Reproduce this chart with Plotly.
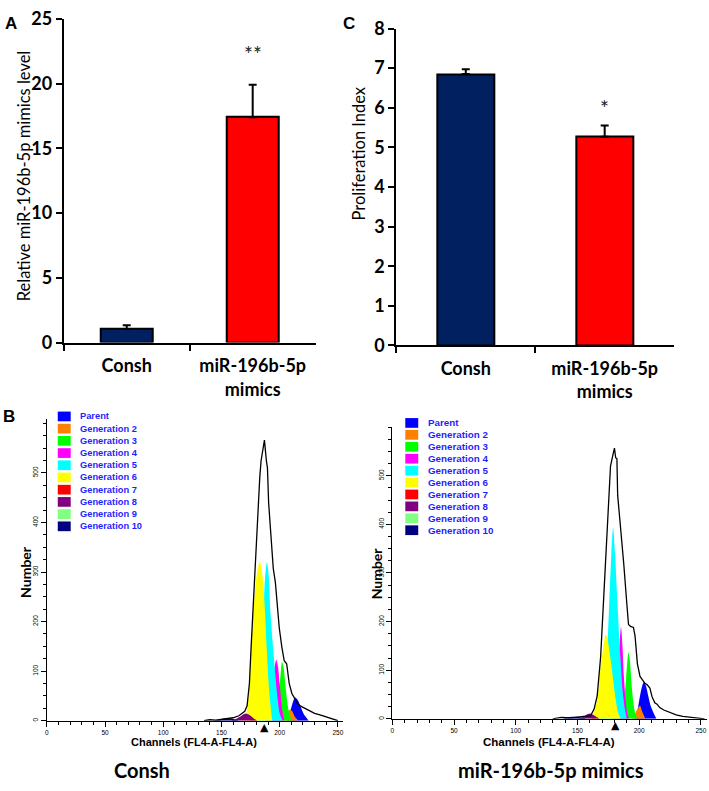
import plotly.graph_objects as go

W, H = 709, 791

# ---- panel A / C : bar data ----
CATS = ["Consh", "miR-196b-5p<br>mimics"]
BAR_COLORS = ["#002060", "#FF0000"]
A_MEAN = [1.05, 17.4]
A_ERR = [0.28, 2.5]
A_SIG = ["", "**"]
C_MEAN = [6.85, 5.27]
C_ERR = [0.12, 0.28]
C_SIG = ["", "*"]

# ---- panel B : ModFit generation legend ----
GEN_NAMES = ["Parent", "Generation 2", "Generation 3", "Generation 4", "Generation 5",
             "Generation 6", "Generation 7", "Generation 8", "Generation 9", "Generation 10"]
GEN_COLORS = ["#0000FF", "#FF8000", "#00FF00", "#FF00FF", "#00FFFF",
              "#FFFF00", "#FF0000", "#800080", "#80FF80", "#000080"]

# Consh histogram (channel, count)
CONSH_ENV_CH = [135, 140, 145, 150, 155, 160, 165, 170, 172, 174, 175.5, 177.7, 180.6, 182.9,
                184, 186.9, 188.6, 189.5, 190.5, 192.5, 194.5, 196.3, 198.2, 199.6, 201.9,
                203.9, 206, 208.2, 210.5, 213, 215, 217.6, 222, 226, 230, 234.6, 240, 245.7, 250]
CONSH_ENV_N = [0, 2, 1, 3, 4, 6, 10, 19, 30, 75, 150, 259, 392, 491,
               524, 566, 524, 510, 440, 379, 307, 279, 220, 188, 148,
               121, 115, 75, 55, 45, 36, 30, 25, 20, 15, 12, 8, 4, 0]
CONSH_PEAK_CH = [
    [206, 208.5, 211, 213.3, 215.5, 218, 221, 225],
    [203, 206, 208.5, 210.5, 213, 216],
    [194, 197, 199.5, 201, 202, 203.5, 205, 207, 209, 211],
    [188, 191, 194, 195.5, 197.1, 198.5, 200, 202, 204],
    [181, 183.5, 185.5, 187, 189, 190.5, 192, 195, 197.9, 200, 202.5],
    [170, 171.5, 173.5, 176.3, 179.2, 181.2, 183, 184.5, 186, 187.5, 189, 191, 193.5],
    [174, 177, 180],
    [158, 162, 166, 170.6, 175, 178, 181],
    [160, 163, 166],
    [145, 149, 153, 157, 161, 165],
]
CONSH_PEAK_N = [
    [0, 15, 35, 47, 42, 28, 12, 0],
    [0, 12, 22, 20, 8, 0],
    [0, 20, 60, 100, 119, 105, 70, 30, 8, 0],
    [0, 25, 75, 105, 123, 110, 75, 25, 0],
    [0, 60, 170, 270, 319, 295, 221, 128, 52, 15, 0],
    [0, 15, 55, 185, 273, 307, 321, 305, 275, 215, 140, 60, 0],
    [0, 1, 0],
    [0, 3, 8, 14.5, 10, 4, 0],
    [0, 1, 0],
    [0, 3, 5, 5, 3, 0],
]
CONSH_MARK = 187

# miR-196b-5p mimics histogram (channel, count)
MIR_ENV_CH = [130, 137, 145, 150, 155, 160.6, 163.5, 166, 168.8, 171.5, 174, 175.5, 176.8,
              178.5, 180, 181, 182, 182.6, 184.8, 187.5, 190.1, 191.4, 193, 195.4, 196.7,
              198.6, 200.7, 202.5, 204.7, 206.5, 208.7, 210.5, 212.7, 214.5, 216.7, 220,
              224.7, 230, 235.4, 242, 248.6, 253]
MIR_ENV_N = [0, 3, 2, 4, 5, 6, 20, 47, 127, 260, 393, 460, 520,
             540, 557, 537, 535, 460, 400, 320, 234, 194, 190, 188, 170,
             113, 87, 80, 73, 70, 63, 45, 33, 30, 23, 18,
             13, 8, 5, 3, 1, 0]
MIR_PEAK_CH = [
    [196, 198, 200.7, 202.5, 204, 205.5, 207.4, 209.5, 211.5, 214],
    [194, 197, 199, 200.7, 202.5, 205],
    [184, 187, 189, 190.5, 191.4, 192.5, 194, 195.5, 196.7, 198.5],
    [179, 182, 184, 185.3, 186.5, 187.5, 189, 190.5, 192],
    [168, 171, 173.5, 175.5, 177.5, 178.9, 180.5, 182, 184.8, 186.5, 188, 190],
    [161, 163.5, 166, 168.8, 171, 173, 175, 177, 179, 181, 183, 185],
    [160, 163, 166],
    [150, 154, 157, 159.8, 163, 166, 168],
    [150, 153, 156],
    [138, 142, 146, 150, 154, 157],
]
MIR_PEAK_N = [
    [0, 10, 47, 68, 76, 68, 47, 25, 13, 0],
    [0, 12, 22, 27, 15, 0],
    [0, 25, 70, 120, 137, 120, 67, 30, 13, 0],
    [0, 70, 150, 189, 150, 93, 40, 10, 0],
    [0, 40, 110, 220, 340, 393, 340, 260, 127, 60, 27, 0],
    [0, 15, 40, 107, 147, 174, 155, 120, 80, 40, 12, 0],
    [0, 1, 0],
    [0, 3, 8, 11, 8, 3, 0],
    [0, 1, 0],
    [0, 3, 4, 4, 2, 0],
]
MIR_MARK = 180.5

BAR_FONT = "Lato"
HIST_FONT = "Liberation Sans"


def fx(p):
    return p / W


def fy(p):
    return 1 - p / H


fig = go.Figure()
ann = []

# bar panels
for mean, err, xa, ya in [(A_MEAN, A_ERR, "x", "y"), (C_MEAN, C_ERR, "x2", "y2")]:
    fig.add_trace(go.Bar(
        x=CATS, y=mean, width=0.41,
        marker=dict(color=BAR_COLORS, line=dict(color="black", width=2)),
        error_y=dict(type="data", array=err, arrayminus=[0, 0], symmetric=False,
                     color="black", thickness=2, width=4),
        xaxis=xa, yaxis=ya, showlegend=False,
    ))

# histogram panels
for env_ch, env_n, peak_ch, peak_n, mark, xa, ya, mark_y in [
    (CONSH_ENV_CH, CONSH_ENV_N, CONSH_PEAK_CH, CONSH_PEAK_N, CONSH_MARK, "x3", "y3", 736),
    (MIR_ENV_CH, MIR_ENV_N, MIR_PEAK_CH, MIR_PEAK_N, MIR_MARK, "x4", "y4", 734),
]:
    for ch, n, col in zip(peak_ch, peak_n, GEN_COLORS):
        fig.add_trace(go.Scatter(
            x=ch, y=n, mode="lines", fill="toself", fillcolor=col,
            line=dict(width=0, color=col, shape="spline", smoothing=0.8),
            xaxis=xa, yaxis=ya, showlegend=False, hoverinfo="skip",
        ))
    fig.add_trace(go.Scatter(
        x=env_ch, y=env_n, mode="lines", line=dict(color="black", width=1.3),
        xaxis=xa, yaxis=ya, showlegend=False,
    ))
    # gate marker just under the channel axis
    ann.append(dict(x=mark, y=fy(mark_y), xref=xa, yref="paper", text="▲",
                    showarrow=False, xanchor="center", yanchor="middle",
                    font=dict(family="DejaVu Sans", size=11, color="black")))

bar_tick = dict(family=BAR_FONT, size=18, color="black", weight="bold")
bar_x = dict(type="category", range=[-0.5, 1.5], showline=True, linecolor="black",
             linewidth=2, ticks="outside", tickson="boundaries", ticklen=6, tickwidth=2,
             tickcolor="black", tickfont=bar_tick, ticklabelstandoff=6, showgrid=False,
             fixedrange=True)
bar_y = dict(showline=True, linecolor="black", linewidth=2, ticks="outside", ticklen=6,
             tickwidth=2, tickcolor="black", tickfont=bar_tick, showgrid=False,
             zeroline=False)

hist_tick = dict(family=HIST_FONT, size=6.5, color="black")
hist_x = dict(showline=True, linecolor="black", linewidth=1, ticks="outside", ticklen=5,
              tickwidth=1, tickcolor="black", tickvals=[0, 50, 100, 150, 200, 250],
              tickfont=hist_tick, showgrid=False, zeroline=False, ticklabeloverflow="allow",
              minor=dict(dtick=10, ticks="outside", ticklen=3, tickcolor="black"))
hist_y = dict(showline=True, linecolor="black", linewidth=1, ticks="outside", ticklen=5,
              tickwidth=1, tickcolor="black", tickvals=[0, 100, 200, 300, 400, 500],
              tickangle=-90, tickfont=hist_tick, showgrid=False, zeroline=False,
              minor=dict(dtick=25, tick0=0, ticks="outside", ticklen=3, tickcolor="black"))

fig.update_layout(
    width=W, height=H, margin=dict(l=0, r=0, t=0, b=0),
    paper_bgcolor="white", plot_bgcolor="white", bargap=0,
    xaxis=dict(bar_x, domain=[fx(62), fx(315)], anchor="y"),
    yaxis=dict(bar_y, domain=[fy(340), fy(7)], range=[0, 25], dtick=5, anchor="x"),
    xaxis2=dict(bar_x, domain=[fx(396), fx(675)], anchor="y2"),
    yaxis2=dict(bar_y, domain=[fy(343), fy(17)], range=[0, 8], dtick=1, anchor="x2"),
    xaxis3=dict(hist_x, domain=[fx(45), fx(342)], range=[0, 254], anchor="y3"),
    yaxis3=dict(hist_y, domain=[fy(729), fy(419)], range=[0, 608], anchor="x3"),
    xaxis4=dict(hist_x, domain=[fx(392), fx(708)], range=[0, 255], anchor="y4"),
    yaxis4=dict(hist_y, domain=[fy(727), fy(427)], range=[0, 600], anchor="x4"),
)


def txt(x, y, s, size, family=BAR_FONT, bold=False, angle=0, color="black"):
    ann.append(dict(x=fx(x), y=fy(y), xref="paper", yref="paper", text=s,
                    showarrow=False, textangle=angle, xanchor="center", yanchor="middle",
                    font=dict(family=family, size=size, color=color,
                              weight="bold" if bold else "normal")))


# panel letters
txt(9, 12, "A", 17, HIST_FONT, True)
txt(348, 12, "C", 17, HIST_FONT, True)
txt(7, 416, "B", 17, HIST_FONT, True)

# bar axis titles
txt(22, 168, "Relative miR-196b-5p mimics level", 16.5, angle=-90)
txt(358, 145, "Proliferation Index", 16.5, angle=-90)

# significance marks
for cat, m, e, s in zip(CATS, A_MEAN, A_ERR, A_SIG):
    if s:
        ann.append(dict(x=cat, y=m + e + 1.3, xref="x", yref="y", text=s, showarrow=False,
                        yanchor="bottom", font=dict(family=BAR_FONT, size=21, color="#222")))
for cat, m, e, s in zip(CATS, C_MEAN, C_ERR, C_SIG):
    if s:
        ann.append(dict(x=cat, y=m + e + 0.08, xref="x2", yref="y2", text=s, showarrow=False,
                        yanchor="bottom", font=dict(family=BAR_FONT, size=21, color="#222")))

# histogram titles
txt(193, 751, "Channels (FL4-A-FL4-A)", 11, HIST_FONT, True)
txt(549, 751, "Channels (FL4-A-FL4-A)", 11.5, HIST_FONT, True)
txt(24, 576, "Number", 14, bold=True, angle=-90)
txt(377, 577, "Number", 14, bold=True, angle=-90)
txt(141, 780, "Consh", 20, bold=True)
txt(551, 780, "miR-196b-5p mimics", 20, bold=True)

# ModFit legends
shapes = []
for (sx, tx, top, step, fs) in [(56, 76.5, 416, 12.56, 9.3), (405, 426, 422.7, 12.26, 9.8)]:
    for i, (name, col) in enumerate(zip(GEN_NAMES, GEN_COLORS)):
        cy = top + i * step
        shapes.append(dict(type="rect", xref="paper", yref="paper",
                           x0=fx(sx), x1=fx(sx + 13), y0=fy(cy + 5), y1=fy(cy - 5),
                           fillcolor=col, line=dict(width=0)))
        ann.append(dict(x=fx(tx), y=fy(cy), xref="paper", yref="paper", text=name,
                        showarrow=False, xanchor="left", yanchor="middle",
                        font=dict(family=HIST_FONT, size=fs, color="#1f1fff", weight="bold")))

fig.update_layout(annotations=ann, shapes=shapes)

# drop the page's default 8px body margin so the figure sits at the window origin
fig.write_html("out.html", config={"displayModeBar": False},
               post_script="document.body.style.margin = '0';")
